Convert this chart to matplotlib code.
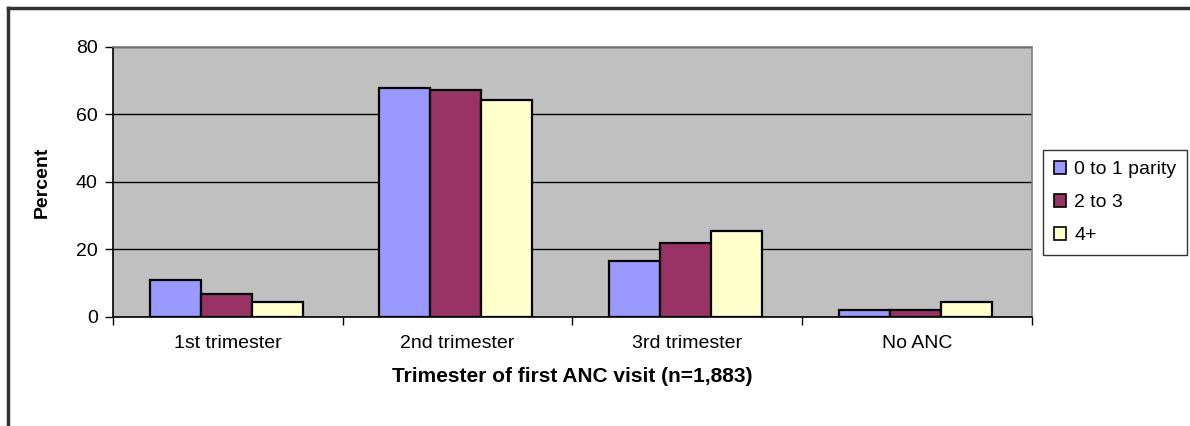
import numpy as np
import matplotlib
matplotlib.use('Agg')
import matplotlib.pyplot as plt
from matplotlib.lines import Line2D

plt.rcParams['font.family'] = ['Liberation Sans', 'DejaVu Sans']

# data
categories = ['1st trimester', '2nd trimester', '3rd trimester', 'No ANC']
series_names = ['0 to 1 parity', '2 to 3', '4+']
parity_0_1 = [11.0, 67.8, 16.7, 2.1]
parity_2_3 = [6.8, 67.2, 22.0, 2.1]
parity_4_plus = [4.4, 64.2, 25.4, 4.4]
colors = ['#9999FF', '#993366', '#FFFFCC']

fig = plt.figure(figsize=(11.9, 4.26), dpi=100)
ax = fig.add_axes([0.095, 0.256, 0.772, 0.634])
ax.set_facecolor('#C0C0C0')

x = np.arange(len(categories))
w = 0.222
for i, (vals, name, c) in enumerate(zip([parity_0_1, parity_2_3, parity_4_plus], series_names, colors)):
    ax.bar(x + (i - 1) * w - 0.007, vals, width=w, color=c, edgecolor='black',
           linewidth=1.6, label=name, zorder=3)

ax.set_xlim(-0.5, len(categories) - 0.5)
ax.set_ylim(0, 80)
ax.set_yticks([0, 20, 40, 60, 80])
ax.yaxis.grid(True, color='black', linewidth=1.0, zorder=1)
ax.set_axisbelow(True)

# category ticks at boundaries, labels centred
ax.set_xticks(np.arange(-0.5, len(categories)), minor=False)
ax.set_xticklabels([])
ax.set_xticks(x, minor=True)
ax.set_xticklabels(categories, minor=True, fontsize=14)
ax.tick_params(axis='x', which='major', length=6, direction='out', width=1, color='black')
ax.tick_params(axis='x', which='minor', length=0, pad=13)
ax.tick_params(axis='y', length=6, direction='out', width=1, labelsize=14, pad=5)

for s in ['top', 'right']:
    ax.spines[s].set_color('#808080')
    ax.spines[s].set_linewidth(1.2)
for s in ['left', 'bottom']:
    ax.spines[s].set_color('black')
    ax.spines[s].set_linewidth(1.2)

ax.set_ylabel('Percent', fontsize=14, fontweight='bold', labelpad=18)
ax.set_xlabel('Trimester of first ANC visit (n=1,883)', fontsize=15, fontweight='bold', labelpad=11)

leg = fig.legend(loc='center left', bbox_to_anchor=(0.8765, 0.525), fontsize=14,
                 frameon=True, fancybox=False, edgecolor='black', handlelength=0.65,
                 handleheight=0.65, handletextpad=0.4, labelspacing=0.8, borderpad=0.55,
                 borderaxespad=0)
leg.get_frame().set_linewidth(1.0)
for h in leg.legend_handles:
    h.set_linewidth(1.2)

# outer chart frame (only top and left visible)
fig.add_artist(Line2D([8 / 1190, 1], [1 - 8 / 426, 1 - 8 / 426], color='#333333', linewidth=2.5))
fig.add_artist(Line2D([8 / 1190, 8 / 1190], [0, 1 - 8 / 426], color='#333333', linewidth=2.5))

fig.savefig('out.png', dpi=100)
